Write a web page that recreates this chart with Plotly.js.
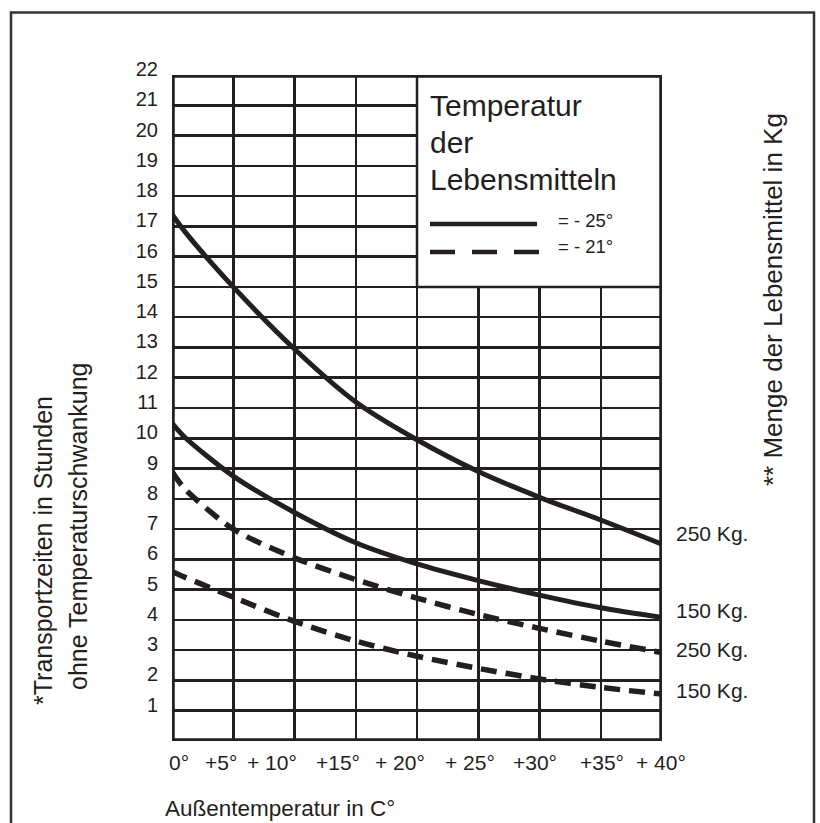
<!DOCTYPE html>
<html>
<head>
<meta charset="utf-8">
<script src="https://cdn.plot.ly/plotly-3.0.1.min.js"></script>
<style>
  html, body { margin: 0; padding: 0; background: #ffffff; }
  #chart { width: 820px; height: 823px; }
</style>
</head>
<body>
<div id="chart"></div>
<script>
// ---- data ----
const xTemps = [0, 1, 5, 10, 15, 20, 25, 30, 35, 40];
const solid250 = [17.4, 16.85, 15.0, 12.95, 11.2, 9.95, 8.9, 8.05, 7.3, 6.5];
const solid150 = [10.5, 10.05, 8.75, 7.55, 6.55, 5.85, 5.3, 4.82, 4.4, 4.08];
const dashed250 = [8.9, 8.35, 7.0, 6.05, 5.33, 4.72, 4.18, 3.72, 3.3, 2.92];
const dashed150 = [5.6, 5.42, 4.75, 3.95, 3.3, 2.8, 2.4, 2.05, 1.77, 1.55];
const seriesLabels = ['250 Kg.', '150 Kg.', '250 Kg.', '150 Kg.'];

const yTickValues = [1, 2, 3, 4, 5, 6, 7, 8, 9, 10, 11, 12, 13, 14, 15, 16, 17, 18, 19, 20, 21, 22];
const yTickLabels = ['1', '2', '3', '4', '5', '6', '7', '8', '9', '10', '11', '12', '13', '14', '15', '16', '17', '18', '19', '20', '21', '22'];
const xTickValues = [0, 5, 10, 15, 20, 25, 30, 35, 40];
const xTickLabels = ['0°', '+5°', '+ 10°', '+15°', '+ 20°', '+ 25°', '+30°', '+35°', '+ 40°'];

const legendTitleLines = ['Temperatur', 'der', 'Lebensmitteln'];
const legendEntries = ['= - 25°', '= - 21°'];
const yTitleLines = ['*Transportzeiten in Stunden', 'ohne Temperaturschwankung'];
const xTitle = 'Außentemperatur in C°';
const rightTitle = '** Menge der Lebensmittel in Kg';

// ---- style / layout helpers ----
const INK = '#231f20';
const FONT = '"Liberation Sans", Arial, Helvetica, sans-serif';
const L = 172, T = 75, W = 490, H = 666;
const px2x = p => (p - L) / W;
const py2y = p => (T + H - p) / H;
const xLabelShift = [7, -12, -23, -18, -17, -8, -5, 1, -1];
const seriesLabelYShift = [11, 7, 3, 4];

const DASH = '16px,9px';
const series = [
  {y: solid250, dash: 'solid'},
  {y: solid150, dash: 'solid'},
  {y: dashed250, dash: DASH},
  {y: dashed150, dash: DASH}
];

const traces = series.map((s, i) => ({
  type: 'scatter',
  mode: 'lines',
  x: xTemps,
  y: s.y,
  name: seriesLabels[i],
  line: {color: INK, width: s.dash === 'solid' ? 5 : 5.5, dash: s.dash, shape: 'spline', smoothing: 0.8},
  hoverinfo: 'skip',
  showlegend: false
}));

const annotations = [];

// x tick labels
xTickValues.forEach((v, i) => {
  annotations.push({
    x: v, xref: 'x', y: 0, yref: 'paper',
    text: xTickLabels[i], showarrow: false,
    xanchor: 'center', yanchor: 'middle',
    xshift: xLabelShift[i], yshift: -21,
    font: {family: FONT, size: 21, color: INK}
  });
});

// series end labels
series.forEach((s, i) => {
  annotations.push({
    x: xTemps[xTemps.length - 1], xref: 'x',
    y: s.y[s.y.length - 1], yref: 'y',
    text: seriesLabels[i], showarrow: false,
    xanchor: 'left', yanchor: 'middle',
    xshift: 12, yshift: seriesLabelYShift[i],
    font: {family: FONT, size: 21, color: INK}
  });
});

// legend title lines
const legendTitleY = [105.5, 142.5, 179.5];
legendTitleLines.forEach((t, i) => {
  annotations.push({
    x: px2x(428), xref: 'paper', y: py2y(legendTitleY[i]), yref: 'paper',
    text: t, showarrow: false, xanchor: 'left', yanchor: 'middle',
    font: {family: FONT, size: 30, color: INK}
  });
});
const legendEntryY = [220, 247];
legendEntries.forEach((t, i) => {
  annotations.push({
    x: px2x(556), xref: 'paper', y: py2y(legendEntryY[i]), yref: 'paper',
    text: t, showarrow: false, xanchor: 'left', yanchor: 'middle',
    font: {family: FONT, size: 18.5, color: INK}
  });
});

// axis titles
annotations.push({
  x: px2x(43), xref: 'paper', y: py2y(551), yref: 'paper',
  text: yTitleLines[0], showarrow: false, textangle: -90,
  xanchor: 'center', yanchor: 'middle',
  font: {family: FONT, size: 25, color: INK}
});
annotations.push({
  x: px2x(78), xref: 'paper', y: py2y(526), yref: 'paper',
  text: yTitleLines[1], showarrow: false, textangle: -90,
  xanchor: 'center', yanchor: 'middle',
  font: {family: FONT, size: 25, color: INK}
});
annotations.push({
  x: px2x(773), xref: 'paper', y: py2y(300), yref: 'paper',
  text: rightTitle, showarrow: false, textangle: -90,
  xanchor: 'center', yanchor: 'middle',
  font: {family: FONT, size: 26, color: INK}
});
annotations.push({
  x: px2x(163), xref: 'paper', y: py2y(808), yref: 'paper',
  text: xTitle, showarrow: false,
  xanchor: 'left', yanchor: 'middle',
  font: {family: FONT, size: 22.5, color: INK}
});

const shapes = [
  // outer frame
  {type: 'rect', xref: 'paper', yref: 'paper',
   x0: px2x(11), x1: px2x(814), y0: py2y(840), y1: py2y(12.5),
   line: {color: '#333333', width: 2.5}, fillcolor: 'rgba(0,0,0,0)', layer: 'below'},
  // legend box (covers grid)
  {type: 'rect', xref: 'x', yref: 'y', x0: 20, x1: 40, y0: 15, y1: 22,
   fillcolor: '#ffffff', line: {color: INK, width: 2.5}, layer: 'above'},
  // legend samples
  {type: 'line', xref: 'paper', yref: 'paper',
   x0: px2x(430), x1: px2x(537), y0: py2y(224), y1: py2y(224),
   line: {color: INK, width: 4.5}, layer: 'above'},
  {type: 'line', xref: 'paper', yref: 'paper',
   x0: px2x(430), x1: px2x(546), y0: py2y(252), y1: py2y(252),
   line: {color: INK, width: 4.5, dash: '25px,17px'}, layer: 'above'},
  // thick plot border
  {type: 'rect', xref: 'x', yref: 'y', x0: 0, x1: 40, y0: 0, y1: 22,
   fillcolor: 'rgba(0,0,0,0)', line: {color: INK, width: 5.5}, layer: 'above'}
];

const layout = {
  width: 820, height: 823,
  margin: {l: L, r: 820 - L - W, t: T, b: 823 - T - H, pad: 0},
  paper_bgcolor: '#ffffff', plot_bgcolor: '#ffffff',
  font: {family: FONT, color: INK},
  showlegend: false,
  xaxis: {
    range: [0, 40], tickvals: xTickValues, showticklabels: false,
    showgrid: true, gridcolor: INK, gridwidth: 2.5,
    zeroline: false, showline: false, ticks: '', fixedrange: true
  },
  yaxis: {
    range: [0, 22], tickvals: yTickValues, ticktext: yTickLabels,
    showgrid: true, gridcolor: INK, gridwidth: 2.5,
    zeroline: false, showline: false, ticks: '',
    ticklabelshift: -6, ticklabelstandoff: 13,
    tickfont: {family: FONT, size: 20, color: INK}, fixedrange: true
  },
  annotations: annotations,
  shapes: shapes
};

Plotly.newPlot('chart', traces, layout, {staticPlot: true, displayModeBar: false});
</script>
</body>
</html>
